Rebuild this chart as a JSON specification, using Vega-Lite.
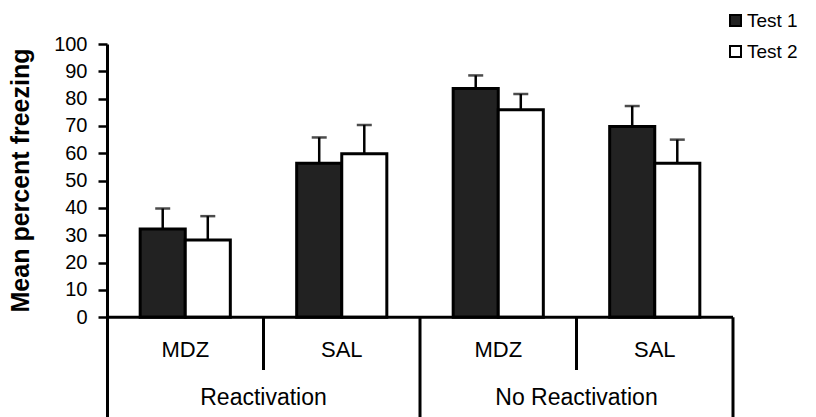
{
  "$schema": "https://vega.github.io/schema/vega-lite/v6.json",
  "autosize": "none",
  "width": 626,
  "height": 373,
  "padding": {"top": 44, "left": 107, "right": 83, "bottom": 0},
  "background": "white",
  "config": {
    "view": {"stroke": null},
    "font": "Liberation Sans",
    "axis": {"grid": false},
    "axisY": {
      "labelOverlap": false,
      "titleFont": "Liberation Sans",
      "titleFontSize": 25,
      "titleFontWeight": "bold",
      "titleColor": "black",
      "labelFontSize": 20,
      "labelColor": "black",
      "labelPadding": 11,
      "tickSize": 9,
      "tickWidth": 2.5,
      "tickColor": "black",
      "domainColor": "black",
      "domainWidth": 3
    }
  },
  "datasets": {
    "bars": [
      {"cond": "R-MDZ", "test": "Test 1", "mean": 32.3, "upper": 39.8},
      {"cond": "R-MDZ", "test": "Test 2", "mean": 28.3, "upper": 37.0},
      {"cond": "R-SAL", "test": "Test 1", "mean": 56.4, "upper": 65.8},
      {"cond": "R-SAL", "test": "Test 2", "mean": 59.8, "upper": 70.4},
      {"cond": "NR-MDZ", "test": "Test 1", "mean": 83.7, "upper": 88.5},
      {"cond": "NR-MDZ", "test": "Test 2", "mean": 75.9, "upper": 81.7},
      {"cond": "NR-SAL", "test": "Test 1", "mean": 69.8, "upper": 77.3},
      {"cond": "NR-SAL", "test": "Test 2", "mean": 56.4, "upper": 65.0}
    ],
    "drugs": [
      {"cond": "R-MDZ", "drug": "MDZ"},
      {"cond": "R-SAL", "drug": "SAL"},
      {"cond": "NR-MDZ", "drug": "MDZ"},
      {"cond": "NR-SAL", "drug": "SAL"}
    ],
    "groups": [
      {"cond": "R-SAL", "group": "Reactivation"},
      {"cond": "NR-SAL", "group": "No Reactivation"}
    ],
    "short": [
      {"cond": "R-SAL"},
      {"cond": "NR-SAL"}
    ],
    "long": [
      {"cond": "NR-MDZ"}
    ],
    "edge": [
      {"cond": "NR-SAL"}
    ]
  },
  "layer": [
    {
      "data": {"name": "bars"},
      "mark": {"type": "bar", "stroke": "black", "strokeWidth": 3},
      "encoding": {
        "x": {"field": "cond", "type": "nominal", "scale": {"domain": ["R-MDZ", "R-SAL", "NR-MDZ", "NR-SAL"], "paddingInner": 0.424, "paddingOuter": 0.212}, "axis": null},
        "xOffset": {"field": "test", "type": "nominal", "scale": {"paddingInner": 0, "paddingOuter": 0}},
        "y": {
          "field": "mean", "type": "quantitative",
          "scale": {"domain": [-36.5, 100], "nice": false, "zero": false},
          "axis": {
            "values": [0, 10, 20, 30, 40, 50, 60, 70, 80, 90, 100],
            "title": "Mean percent freezing",
            "titleX": -74,
            "titleY": 136,
            "titleAngle": 270,
            "titleBaseline": "bottom",
            "titleAlign": "center"
          }
        },
        "y2": {"datum": 0},
        "color": {
          "field": "test", "type": "nominal",
          "scale": {"domain": ["Test 1", "Test 2"], "range": ["#222222", "#ffffff"]},
          "legend": {
            "title": null,
            "orient": "none",
            "legendX": 619,
            "legendY": -33,
            "symbolType": "square",
            "symbolSize": 121,
            "symbolStrokeColor": "black",
            "symbolStrokeWidth": 2,
            "labelFontSize": 19,
            "labelColor": "black",
            "labelOffset": 2,
            "rowPadding": 11
          }
        }
      }
    },
    {
      "data": {"name": "bars"},
      "mark": {"type": "rule", "stroke": "black", "strokeWidth": 2.5},
      "encoding": {
        "x": {"field": "cond", "type": "nominal"},
        "xOffset": {"field": "test", "type": "nominal"},
        "y": {"field": "mean", "type": "quantitative", "axis": {"values": [0, 10, 20, 30, 40, 50, 60, 70, 80, 90, 100], "title": "Mean percent freezing"}},
        "y2": {"field": "upper"}
      }
    },
    {
      "data": {"name": "bars"},
      "mark": {"type": "tick", "color": "black", "size": 15, "thickness": 2.5},
      "encoding": {
        "x": {"field": "cond", "type": "nominal"},
        "xOffset": {"field": "test", "type": "nominal"},
        "y": {"field": "upper", "type": "quantitative", "axis": {"values": [0, 10, 20, 30, 40, 50, 60, 70, 80, 90, 100], "title": "Mean percent freezing"}}
      }
    },
    {
      "data": {"values": [{}]},
      "mark": {"type": "rule", "stroke": "black", "strokeWidth": 3},
      "encoding": {"y": {"datum": 0, "type": "quantitative", "axis": {"values": [0, 10, 20, 30, 40, 50, 60, 70, 80, 90, 100], "title": "Mean percent freezing"}}}
    },
    {
      "data": {"name": "drugs"},
      "mark": {"type": "text", "fontSize": 22, "color": "black", "baseline": "middle"},
      "encoding": {
        "x": {"field": "cond", "type": "nominal"},
        "y": {"datum": -12, "type": "quantitative", "axis": {"values": [0, 10, 20, 30, 40, 50, 60, 70, 80, 90, 100], "title": "Mean percent freezing"}},
        "text": {"field": "drug"}
      }
    },
    {
      "data": {"name": "groups"},
      "mark": {"type": "text", "fontSize": 23, "color": "black", "baseline": "middle"},
      "encoding": {
        "x": {"field": "cond", "type": "nominal", "bandPosition": -0.368},
        "y": {"datum": -29.5, "type": "quantitative", "axis": {"values": [0, 10, 20, 30, 40, 50, 60, 70, 80, 90, 100], "title": "Mean percent freezing"}},
        "text": {"field": "group"}
      }
    },
    {
      "data": {"name": "short"},
      "mark": {"type": "rule", "stroke": "black", "strokeWidth": 3},
      "encoding": {
        "x": {"field": "cond", "type": "nominal", "bandPosition": -0.368},
        "y": {"datum": 0, "type": "quantitative", "axis": {"values": [0, 10, 20, 30, 40, 50, 60, 70, 80, 90, 100], "title": "Mean percent freezing"}},
        "y2": {"datum": -19.3}
      }
    },
    {
      "data": {"name": "long"},
      "mark": {"type": "rule", "stroke": "black", "strokeWidth": 3},
      "encoding": {
        "x": {"field": "cond", "type": "nominal", "bandPosition": -0.368},
        "y": {"datum": 0, "type": "quantitative", "axis": {"values": [0, 10, 20, 30, 40, 50, 60, 70, 80, 90, 100], "title": "Mean percent freezing"}},
        "y2": {"datum": -36.5}
      }
    },
    {
      "data": {"name": "edge"},
      "mark": {"type": "rule", "stroke": "black", "strokeWidth": 3},
      "encoding": {
        "x": {"field": "cond", "type": "nominal", "bandPosition": 1.368},
        "y": {"datum": 0, "type": "quantitative", "axis": {"values": [0, 10, 20, 30, 40, 50, 60, 70, 80, 90, 100], "title": "Mean percent freezing"}},
        "y2": {"datum": -36.5}
      }
    }
  ]
}
